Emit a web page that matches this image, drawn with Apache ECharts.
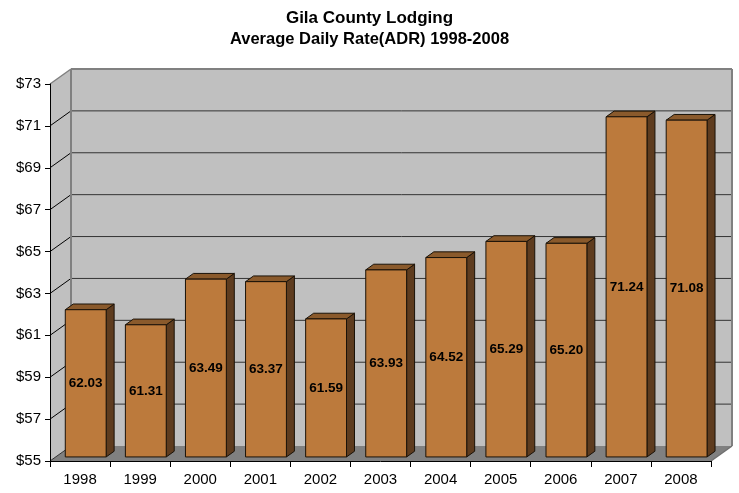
<!DOCTYPE html>
<html>
<head>
<meta charset="utf-8">
<script src="https://cdn.jsdelivr.net/npm/echarts@6/dist/echarts.min.js"></script>
<style>html,body{margin:0;padding:0;background:#fff}#c{width:739px;height:493px}</style>
</head>
<body>
<div id="c"></div>
<script>
const titleText = 'Gila County Lodging';
const subtitleText = 'Average Daily Rate(ADR) 1998-2008';
const categories = ['1998','1999','2000','2001','2002','2003','2004','2005','2006','2007','2008'];
const adrValues = [62.03, 61.31, 63.49, 63.37, 61.59, 63.93, 64.52, 65.29, 65.20, 71.24, 71.08];
const yTickValues = [55, 57, 59, 61, 63, 65, 67, 69, 71, 73];

const DX = 21, DY = -15;       // depth of the 3D box
const F0 = 0.27, F1 = 0.65;    // bar depth position (fraction)
const FONT = '"Liberation Sans", Arial, sans-serif';

function renderWalls(params, api) {
  const cs = params.coordSys;
  const x0 = cs.x, x1 = cs.x + cs.width, yT = cs.y, yB = cs.y + cs.height;
  const ch = [];
  ch.push({type:'rect', shape:{x:x0+DX, y:yT+DY, width:cs.width, height:cs.height}, style:{fill:'#c0c0c0'}});
  ch.push({type:'polygon', shape:{points:[[x0,yT],[x0+DX,yT+DY],[x0+DX,yB+DY],[x0,yB]]}, style:{fill:'#c0c0c0'}});
  ch.push({type:'polygon', shape:{points:[[x0,yB],[x1,yB],[x1+DX,yB+DY],[x0+DX,yB+DY]]}, style:{fill:'#808080'}});
  yTickValues.forEach(function (v) {
    const y = api.coord([0, v])[1];
    if (v !== yTickValues[0] && v !== yTickValues[yTickValues.length-1]) {
      ch.push({type:'line', shape:{x1:x0+DX, y1:y+DY, x2:x1+DX, y2:y+DY}, style:{stroke:'#333333', lineWidth:1}});
      ch.push({type:'line', shape:{x1:x0, y1:y, x2:x0+DX, y2:y+DY}, style:{stroke:'#000', lineWidth:1}});
    } else if (v === yTickValues[0]) {
      ch.push({type:'line', shape:{x1:x0, y1:y, x2:x0+DX, y2:y+DY}, style:{stroke:'#333', lineWidth:1}});
    }
  });
  const g = {stroke:'#808080', lineWidth:2};
  ch.push({type:'line', shape:{x1:x0+DX, y1:yT+DY, x2:x1+DX, y2:yT+DY}, style:g});
  ch.push({type:'line', shape:{x1:x0+DX, y1:yT+DY, x2:x0+DX, y2:yB+DY}, style:g});
  ch.push({type:'line', shape:{x1:x1+DX, y1:yT+DY, x2:x1+DX, y2:yB+DY}, style:g});
  ch.push({type:'line', shape:{x1:x0, y1:yT, x2:x0+DX, y2:yT+DY}, style:{stroke:'#808080', lineWidth:1.5}});
  ch.push({type:'line', shape:{x1:x1, y1:yB, x2:x1+DX, y2:yB+DY}, style:{stroke:'#707070', lineWidth:1.5}});
  return {type:'group', children:ch, silent:true};
}

function renderBar(params, api) {
  const i = api.value(0), v = api.value(1);
  const pTop = api.coord([i, v]);
  const pBot = api.coord([i, yTickValues[0]]);
  const hw = api.size([1, 0])[0] * 0.34;
  const ox0 = DX*F0, oy0 = DY*F0, ox1 = DX*F1, oy1 = DY*F1;
  const xl = pTop[0] - hw + ox0, xr = pTop[0] + hw + ox0;
  const yt = pTop[1] + oy0, yb = pBot[1] + oy0;
  const sx = ox1 - ox0, sy = oy1 - oy0;
  const edge = {stroke:'#1a1208', lineWidth:1, lineJoin:'round'};
  return {type:'group', children:[
    {type:'polygon', shape:{points:[[xr,yt],[xr+sx,yt+sy],[xr+sx,yb+sy],[xr,yb]]}, style:Object.assign({fill:'#5e3c1f'}, edge)},
    {type:'polygon', shape:{points:[[xl,yt],[xr,yt],[xr+sx,yt+sy],[xl+sx,yt+sy]]}, style:Object.assign({fill:'#8a5a2c'}, edge)},
    {type:'rect', shape:{x:xl, y:yt, width:xr-xl, height:yb-yt}, style:Object.assign({fill:'#bc7a3c'}, edge)},
    {type:'text', style:{text:v.toFixed(2), x:(xl+xr)/2, y:(yt+yb)/2, align:'center', verticalAlign:'middle',
      fontSize:13.5, fontWeight:'bold', fontFamily:FONT, fill:'#000'}}
  ]};
}

const chart = echarts.init(document.getElementById('c'), null, {renderer:'canvas'});
chart.setOption({
  animation:false,
  backgroundColor:'#fff',
  textStyle:{fontFamily:FONT},
  title:[
    {text:titleText, left:'center', top:5, textStyle:{fontSize:17, fontWeight:'bold', color:'#000', fontFamily:FONT}},
    {text:subtitleText, left:'center', top:25.5, textStyle:{fontSize:16.5, fontWeight:'bold', color:'#000', fontFamily:FONT}}
  ],
  grid:{left:50, right:28, top:84, bottom:32, containLabel:false},
  xAxis:{type:'category', data:categories, z:10, boundaryGap:true,
    axisLine:{lineStyle:{color:'#000', width:1}},
    axisTick:{show:true, length:6, lineStyle:{color:'#000'}, alignWithLabel:false},
    axisLabel:{color:'#000', fontSize:15, margin:11, fontFamily:FONT},
    splitLine:{show:false}},
  yAxis:{type:'value', min:55, max:73, interval:2, z:10,
    axisLine:{show:true, lineStyle:{color:'#000', width:1}},
    axisTick:{show:true, length:5, lineStyle:{color:'#000'}},
    axisLabel:{color:'#000', fontSize:15, margin:9, fontFamily:FONT, formatter:function(v){return '$'+v;}},
    splitLine:{show:false}},
  series:[
    {type:'custom', renderItem:renderWalls, data:[[0, 55]], z:1, silent:true, clip:false},
    {type:'custom', renderItem:renderBar, data:adrValues.map(function(v,i){return [i, v];}), z:3, clip:false}
  ]
});
</script>
</body>
</html>
